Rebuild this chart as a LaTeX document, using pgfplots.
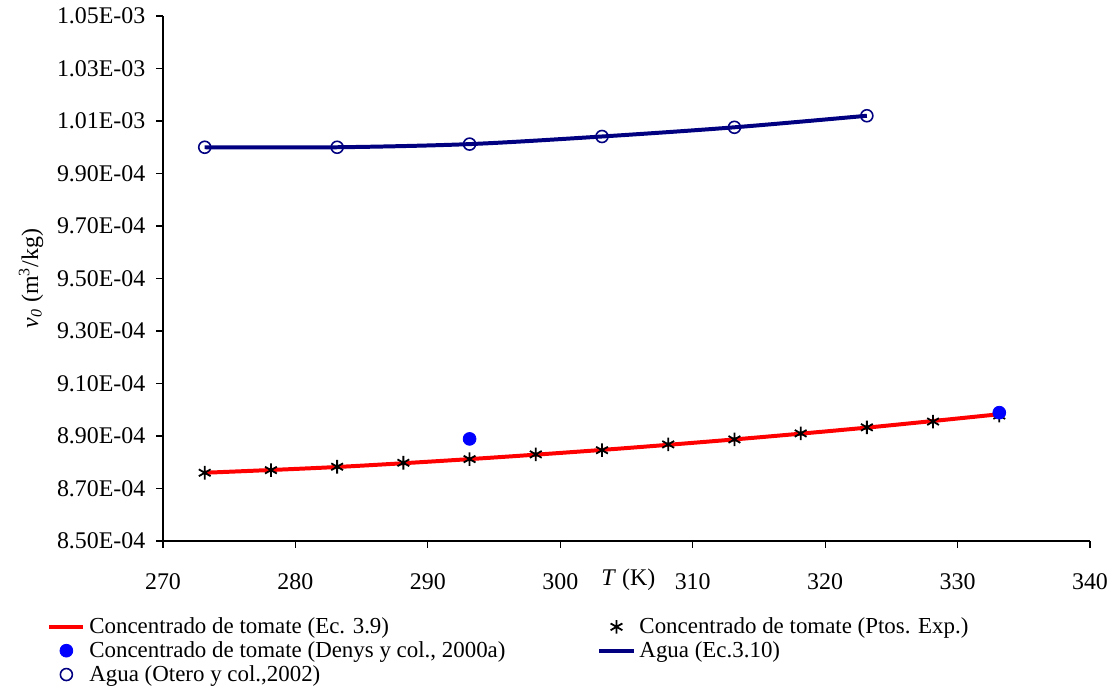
\documentclass[border=0pt]{standalone}
\usepackage{fontspec}
\setmainfont{Liberation Serif}
\usepackage{pgfplots}
\pgfplotsset{compat=1.18}
\definecolor{navyline}{RGB}{0,0,128}
\definecolor{dotblue}{RGB}{0,0,255}

\begin{document}
\begin{tikzpicture}
\begin{axis}[
    name=ax,
    scale only axis,
    width=463.5bp, height=262.5bp,
    xmin=270, xmax=340,
    ymin=8.5e-4, ymax=1.05e-3,
    scaled y ticks=false,
    axis lines*=left,
    axis line style={black, line width=0.6pt},
    tick style={black, line width=0.6pt},
    tick align=outside,
    major tick length=3.3bp,
    font=\fontsize{12}{14}\selectfont,
    xtick={270,280,290,300,310,320,330,340},
    xticklabels={270,280,290,300,310,320,330,340},
    ytick={8.5e-4,8.7e-4,8.9e-4,9.1e-4,9.3e-4,9.5e-4,9.7e-4,9.9e-4,1.01e-3,1.03e-3,1.05e-3},
    yticklabels={8.50E-04,8.70E-04,8.90E-04,9.10E-04,9.30E-04,9.50E-04,9.70E-04,9.90E-04,1.01E-03,1.03E-03,1.05E-03},
    xticklabel style={anchor=center, yshift=-17bp},
    yticklabel style={xshift=-2bp},
    xlabel={\textit{T} (K)},
    xlabel style={at={(rel axis cs:0.502,0)}, anchor=center, yshift=-19.5bp},
    ylabel={\textit{v\textsubscript{0}} (m\textsuperscript{3}/kg)},
    ylabel style={at={(rel axis cs:-0.1424,0.5)}, anchor=center},
    legend columns=2,
    legend cell align=left,
    legend style={draw=none, fill=none, at={(rel axis cs:0,0)}, anchor=north west,
        xshift=-61bp, yshift=-34bp, font=\fontsize{11.5}{13}\selectfont,
        row sep=-1.5bp,
        /tikz/every even column/.append style={column sep=44bp}},
]

% Concentrado de tomate (Ec. 3.9)
\addplot[red, line width=2pt, smooth, no marks] coordinates {
    (273.15,8.760e-4) (283.15,8.782e-4) (293.15,8.812e-4) (303.15,8.847e-4)
    (313.15,8.887e-4) (323.15,8.932e-4) (333.15,8.983e-4)
};
\addlegendentry{Concentrado de tomate (Ec. 3.9)}

% Concentrado de tomate (Ptos. Exp.)
\addplot[only marks, mark=asterisk, mark size=3.4bp, black, mark options={line width=0.9pt}] coordinates {
    (273.15,8.760e-4) (278.15,8.770e-4) (283.15,8.783e-4) (288.15,8.798e-4)
    (293.15,8.812e-4) (298.15,8.830e-4) (303.15,8.846e-4) (308.15,8.868e-4)
    (313.15,8.887e-4) (318.15,8.910e-4) (323.15,8.933e-4) (328.15,8.955e-4)
    (333.15,8.978e-4)
};
\addlegendentry{Concentrado de tomate (Ptos. Exp.)}

% Denys y col., 2000a
\addplot[only marks, mark=*, mark size=3.2bp, dotblue, mark options={draw=dotblue, fill=dotblue}] coordinates {
    (293.15,8.889e-4) (333.15,8.989e-4)
};
\addlegendentry{Concentrado de tomate (Denys y col., 2000a)}

% Agua (Ec. 3.10)
\addplot[navyline, line width=2pt, smooth, no marks] coordinates {
    (273.15,1.0000e-3) (283.15,1.0000e-3) (293.15,1.0012e-3) (303.15,1.0041e-3)
    (313.15,1.0076e-3) (323.15,1.0120e-3)
};
\addlegendentry{Agua (Ec.3.10)}

% Agua (Otero y col., 2002)
\addplot[only marks, mark=o, mark size=3bp, navyline, mark options={line width=0.8pt, fill=white}] coordinates {
    (273.15,1.0000e-3) (283.15,1.0000e-3) (293.15,1.0012e-3) (303.15,1.0041e-3)
    (313.15,1.0076e-3) (323.15,1.0120e-3)
};
\addlegendentry{Agua (Otero y col.,2002)}

\end{axis}
\pgfresetboundingbox
\path[use as bounding box] ([xshift=-81.5bp,yshift=-74bp]ax.south west)
    rectangle ([xshift=11.5bp,yshift=8bp]ax.north east);
\end{tikzpicture}
\end{document}
